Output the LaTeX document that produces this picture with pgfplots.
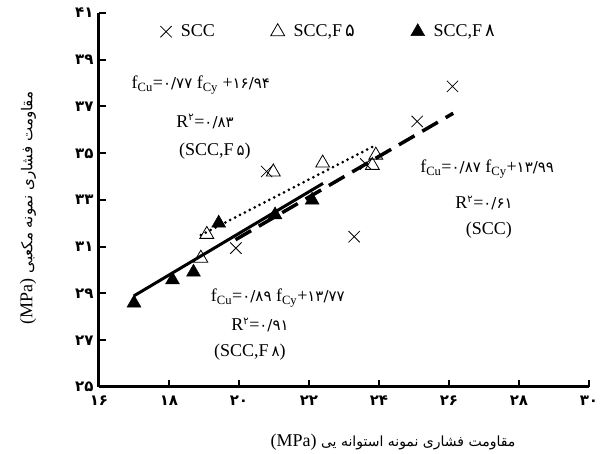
\documentclass[border=0pt]{standalone}
\usepackage{fontspec}
\setmainfont{Liberation Serif}
\newfontfamily\fa[Script=Arabic]{DejaVu Sans}
\TeXXeTstate=1
\usepackage{pgfplots}
\pgfplotsset{compat=1.18}
\newcommand{\fd}[1]{{\fa\fontsize{15}{16}\selectfont #1}}
\newcommand{\fs}[1]{{\fa\fontsize{10}{12}\selectfont #1}}

\begin{document}
\begin{tikzpicture}
\begin{axis}[
  scale only axis, width=490pt, height=374pt,
  xmin=16, xmax=30, ymin=25, ymax=41,
  axis x line=bottom, axis y line=left,
  axis line style={line width=3pt, -},
  xtick={16,18,...,30}, ytick={25,27,...,41},
  xticklabels={۱۶,۱۸,۲۰,۲۲,۲۴,۲۶,۲۸,۳۰},
  yticklabels={۲۵,۲۷,۲۹,۳۱,۳۳,۳۵,۳۷,۳۹,۴۱},
  tick label style={font=\fa\bfseries\fontsize{15}{16}\selectfont},
  x tick label style={yshift=-5pt},
  y tick label style={xshift=-2pt},
  tick style={line width=2pt, black},
  major tick length=7pt,
  tick align=inside,
  clip=false,
  xlabel={\fa\fontsize{14}{18}\selectfont\beginR مقاومت فشاری نمونه استوانه یی \beginL{\rmfamily\fontsize{18}{20}\selectfont(MPa)}\endL\endR},
  xlabel style={at={(axis description cs:0.6,-0.147)}, anchor=center},
  ylabel={\fa\fontsize{15}{18}\selectfont\beginR مقاومت فشاری نمونه مکعبی \beginL{\rmfamily\fontsize{18}{20}\selectfont(MPa)}\endL\endR},
  ylabel style={at={(axis description cs:-0.145,0.479)}, anchor=center},
  legend columns=3,
  legend style={draw=none, fill=none, inner sep=0pt, at={(axis cs:17.75,40.2)}, anchor=west,
    font=\fontsize{18}{20}\selectfont,
    /tikz/every odd column/.append style={column sep=7pt},
    /tikz/every even column/.append style={column sep=54pt}},
]
% regression lines
\addplot[black, line width=3.5pt, dash pattern=on 18pt off 9pt, forget plot] coordinates {(19.9,31.30) (26.12,36.71)};
\addplot[black, line width=3pt, dash pattern=on 0pt off 5.5pt, line cap=round, forget plot] coordinates {(18.91,31.50) (23.91,35.35)};
\addplot[black, line width=3pt, forget plot] coordinates {(17.0,28.90) (22.4,33.71)};
% data
\addplot[only marks, mark=x, mark size=8pt, black, line width=0.8pt] coordinates {
(19.91,30.94) (20.79,34.22) (23.29,31.43) (23.62,34.54) (25.09,36.36) (26.10,37.86)};
\addlegendentry{SCC}
\addplot[only marks, mark=triangle, mark size=8pt, black, line width=0.8pt] coordinates {
(18.91,30.51) (19.08,31.53) (20.98,34.20) (22.39,34.58) (23.81,34.48) (23.91,34.92)};
\addlegendentry{SCC,F\,{\fa ۵}}
\addplot[only marks, mark=triangle*, mark size=8pt, black, fill=black, line width=0.5pt] coordinates {
(17.00,28.59) (18.10,29.58) (18.70,29.91) (19.42,32.01) (21.03,32.36) (22.09,32.99)};
\addlegendentry{SCC,F\,{\fa ۸}}
% annotations
\begin{scope}[every node/.style={font=\fontsize{18}{22}\selectfont, inner sep=0pt, anchor=center}]
\node at (axis cs:18.91,37.93) {f\textsubscript{Cu}=\fd{۰/۷۷} f\textsubscript{Cy} +\fd{۱۶/۹۴}};
\node at (axis cs:19.03,36.36) {R\textsuperscript{\fs{۲}}=\fd{۰/۸۳}};
\node at (axis cs:19.31,35.07) {(SCC,F\,\fd{۵})};
\node at (axis cs:27.09,34.33) {f\textsubscript{Cu}=\fd{۰/۸۷} f\textsubscript{Cy}+\fd{۱۳/۹۹}};
\node at (axis cs:27.00,32.88) {R\textsuperscript{\fs{۲}}=\fd{۰/۶۱}};
\node at (axis cs:27.14,31.72) {(SCC)};
\node at (axis cs:21.11,28.81) {f\textsubscript{Cu}=\fd{۰/۸۹} f\textsubscript{Cy}+\fd{۱۳/۷۷}};
\node at (axis cs:20.60,27.65) {R\textsuperscript{\fs{۲}}=\fd{۰/۹۱}};
\node at (axis cs:20.31,26.51) {(SCC,F\,\fd{۸})};
\end{scope}
\end{axis}
\pgfresetboundingbox
\path ([shift={(-99pt,-67pt)}]current axis.south west) rectangle ([shift={(11pt,13pt)}]current axis.north east);
\end{tikzpicture}
\end{document}
